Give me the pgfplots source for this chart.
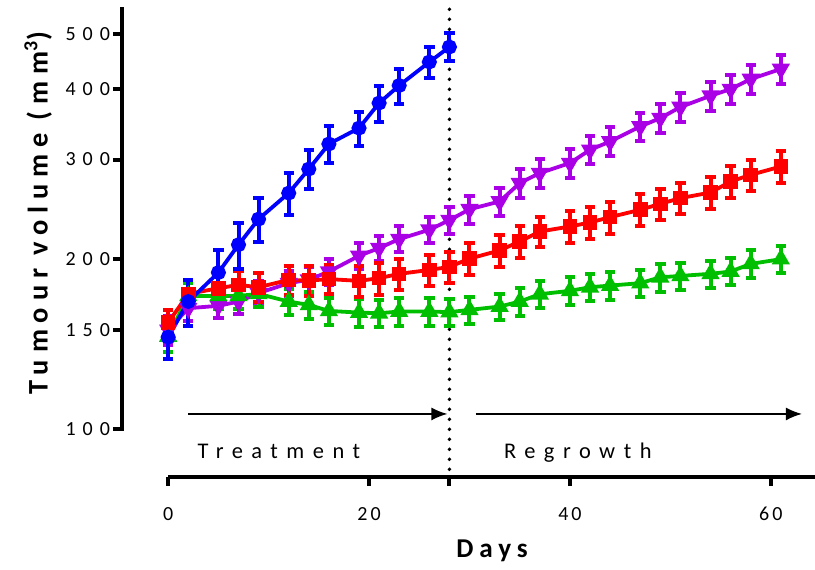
\documentclass[border=0pt]{standalone}
\usepackage{fontspec}
\setmainfont{Carlito}
\newfontfamily\xtickfont[LetterSpace=15]{Carlito}
\newfontfamily\ytickfont[LetterSpace=35]{Carlito}
\newfontfamily\txtfont[LetterSpace=38]{Carlito}
\newfontfamily\lblfont[LetterSpace=22]{Carlito}
\newfontfamily\ylblfont[LetterSpace=24]{Carlito}
\usepackage{pgfplots}
\usepackage{pgfplotstable}
\pgfplotsset{compat=1.18}
\usetikzlibrary{arrows.meta}
\definecolor{cblue}{RGB}{0,0,255}
\definecolor{cred}{RGB}{255,0,0}
\definecolor{cgreen}{RGB}{0,190,0}
\definecolor{cpurple}{RGB}{170,0,230}
\pgfdeclareplotmark{dtri}{%
  \pgfpathmoveto{\pgfqpoint{0pt}{-\pgfplotmarksize}}%
  \pgfpathlineto{\pgfqpoint{0.866\pgfplotmarksize}{0.5\pgfplotmarksize}}%
  \pgfpathlineto{\pgfqpoint{-0.866\pgfplotmarksize}{0.5\pgfplotmarksize}}%
  \pgfpathclose\pgfusepathqfillstroke}
\pgfdeclareplotmark{utri}{%
  \pgfpathmoveto{\pgfqpoint{0pt}{\pgfplotmarksize}}%
  \pgfpathlineto{\pgfqpoint{0.866\pgfplotmarksize}{-0.5\pgfplotmarksize}}%
  \pgfpathlineto{\pgfqpoint{-0.866\pgfplotmarksize}{-0.5\pgfplotmarksize}}%
  \pgfpathclose\pgfusepathqfillstroke}

\pgfplotstableread{
x y e
0 145.6 12.3
2 168.3 15.8
5 189.4 18.5
7 212.1 19.9
9 235.4 21.1
12 261.7 22.4
14 288.6 22.9
16 319.6 24.3
19 341.0 23.6
21 377.6 27.7
23 405.5 28.9
26 446.2 27.3
28 474.3 27.0
}\blue

\pgfplotstableread{
x y e
0 150.0 9
2 163.8 8
5 165.4 8
7 168.3 8.5
9 174.2 9
12 181.4 9
14 183.9 9.5
16 190.1 10
19 202.7 10.5
21 209.2 11
23 217.0 11.5
26 225.4 12
28 234.4 13
30 245.0 14
33 252.9 14.5
35 272.5 16
37 283.9 16.5
40 295.7 17
42 312.1 18
44 322.8 19
47 343.2 20
49 355.1 21
51 371.5 22
54 389.0 23
56 399.7 24
58 416.3 25
61 433.7 26
}\purple

\pgfplotstableread{
x y e
0 154.5 8
2 173.6 10
5 177.7 10.5
7 180.1 10.5
9 178.4 10.5
12 183.8 11
14 183.3 11
16 184.4 11
19 183.1 11.5
21 185.1 12
23 188.4 12
26 191.4 12
28 193.8 12.5
30 200.4 13
33 207.2 13.5
35 214.9 14
37 223.8 14
40 228.4 14.5
42 232.2 15
44 237.3 15.5
47 244.5 16
49 250.5 16
51 256.4 16.5
54 262.3 17
56 274.3 18
58 281.9 18
61 291.6 19
}\red

\pgfplotstableread{
x y e
0 146.0 9
2 172.2 9
5 172.2 9
7 172.2 9
9 173.6 9
12 168.3 9
14 166.0 9
16 162.0 9
19 160.9 9
21 160.5 9
23 161.6 9
26 161.6 9
28 161.2 9
30 162.7 9
33 164.9 9
35 168.3 9.5
37 173.4 9.5
40 175.8 10
42 178.4 10
44 179.6 10
47 181.4 10
49 185.8 10.5
51 186.8 10.5
54 188.4 10.5
56 190.2 10.5
58 196.2 11
61 200.0 11
}\green

\begin{document}
\begin{tikzpicture}
\useasboundingbox (-61pt,-46pt) rectangle (346.5pt,238.5pt);
\begin{axis}[
  at={(0,0)}, anchor=south west,
  scale only axis, width=346.5pt, height=233.85pt,
  xmin=-4.6, xmax=64.4,
  ymode=log, ymin=82.4, ymax=553,
  clip=false,
  axis x line*=bottom, axis y line*=left,
  axis line style={draw=none},
  xtick={0,20,28,40,60}, xticklabels={0,20,,40,60},
  ytick={100,150,200,300,400,500}, yticklabels={100,150,200,300,400,500},
  xminorticks=false, yminorticks=false,
  tick align=outside, major tick length=4.5pt,
  tick style={line width=2pt, black},
  /pgf/number format/assume math mode=true,
  xticklabel style={font=\xtickfont\fontsize{10}{11}\selectfont, yshift=-7pt},
  yticklabel style={font=\ytickfont\fontsize{10}{11}\selectfont, xshift=2pt},
  xlabel={Days},
  ylabel={Tumour volume (mm\textsuperscript{3})},
  xlabel style={font=\lblfont\bfseries\fontsize{13.6}{15}\selectfont, at={(axis description cs:0.534,-0.158)}, anchor=center},
  ylabel style={font=\ylblfont\bfseries\fontsize{14.2}{15}\selectfont, at={(axis description cs:-0.121,0.5645)}, anchor=center},
  error bars/y dir=both, error bars/y explicit,
  error bars/error bar style={line width=2pt},
  error bars/error mark options={rotate=90, mark size=2.6pt, line width=2pt},
]
% axis lines
\draw[line width=2pt, line cap=rect] (axis cs:-4.6,100) -- (axis cs:-4.6,553);
\draw[line width=2pt] (axis cs:0,82.4) -- (axis cs:64.4,82.4);
% dotted line
\draw[line width=1.9pt, line cap=round, dash pattern=on 0pt off 5pt] (axis cs:28,553) -- (axis cs:28,82.4);
% arrows
\draw[line width=0.8pt, -{Latex[length=8pt,width=6.5pt]}] (axis cs:2,106.5) -- (axis cs:27.8,106.5);
\draw[line width=0.8pt, -{Latex[length=8pt,width=6.5pt]}] (axis cs:30.6,106.5) -- (axis cs:63.1,106.5);
\node[anchor=base west, inner sep=0pt, font=\txtfont\fontsize{11.2}{12}\selectfont] at (axis cs:2.9,88.7) {Treatment};
\node[anchor=base west, inner sep=0pt, font=\txtfont\fontsize{11.2}{12}\selectfont] at (axis cs:33.4,88.7) {Regrowth};
% data
\addplot[color=cpurple, line width=1.9pt, mark=dtri, mark size=3.4pt, mark options={solid}] table[x=x,y=y,y error=e] {\purple};
\addplot[color=cgreen, line width=1.9pt, mark=utri, mark size=3.4pt, mark options={solid}] table[x=x,y=y,y error=e] {\green};
\addplot[color=cred, line width=1.9pt, mark=square*, mark size=2.7pt, mark options={solid}] table[x=x,y=y,y error=e] {\red};
\addplot[color=cblue, line width=1.9pt, mark=*, mark size=2.8pt, mark options={solid}] table[x=x,y=y,y error=e] {\blue};
\end{axis}
\end{tikzpicture}
\end{document}
